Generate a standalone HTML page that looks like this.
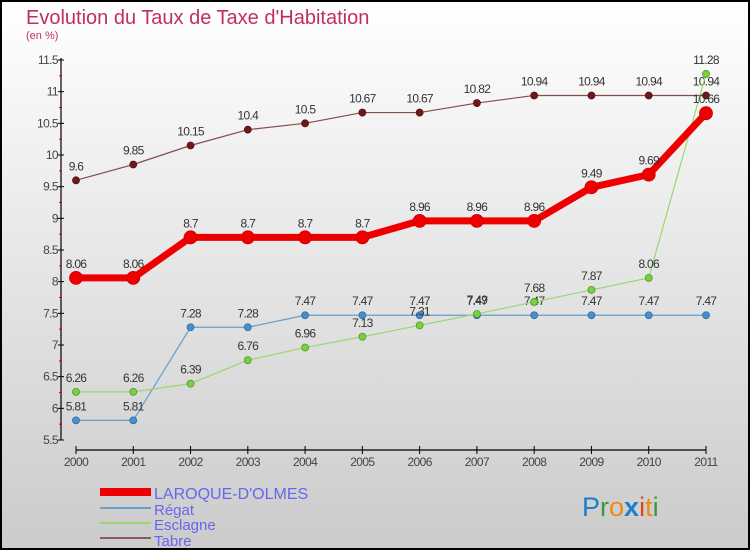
<!DOCTYPE html>
<html><head><meta charset="utf-8"><style>
body{margin:0}
svg text{font-family:"Liberation Sans",sans-serif}
</style></head><body>
<svg width="750" height="550" viewBox="0 0 750 550" xmlns="http://www.w3.org/2000/svg">
<defs><linearGradient id="bg" x1="0" y1="0" x2="0" y2="1"><stop offset="0" stop-color="#ffffff"/><stop offset="1" stop-color="#cbcbcb"/></linearGradient></defs>
<rect x="1" y="1" width="748" height="548" fill="url(#bg)" stroke="#000" stroke-width="2"/>
<text x="26" y="24" font-size="20" fill="#c0305e">Evolution du Taux de Taxe d'Habitation</text>
<text x="26" y="39" font-size="11" fill="#c0305e">(en %)</text>
<g id="axes"></g>
<g id="series"></g>
<g>
<rect x="100" y="488" width="51" height="8" fill="#e00"/>
<text x="154" y="499" font-size="16" fill="#6666ee">LAROQUE-D'OLMES</text>
<rect x="100" y="507" width="51" height="2" fill="#6a9ec8"/>
<text x="154" y="515" font-size="15" fill="#6666ee">Régat</text>
<rect x="100" y="522" width="51" height="2" fill="#9cd670"/>
<text x="154" y="530" font-size="15" fill="#6666ee">Esclagne</text>
<rect x="100" y="537" width="51" height="2" fill="#8b5a5a"/>
<text x="154" y="546" font-size="15" fill="#6666ee">Tabre</text>
</g>
<g font-size="27">
<text x="582" y="516"><tspan fill="#1a7fd0">P</tspan><tspan fill="#3a9a3a">r</tspan><tspan fill="#f08a10">o</tspan><tspan fill="#1a7fd0" font-weight="bold">x</tspan><tspan fill="#e04a10">i</tspan><tspan fill="#f08a10">t</tspan><tspan fill="#3a9a3a">i</tspan></text>
</g>
</svg>
<script>
const years=[2000,2001,2002,2003,2004,2005,2006,2007,2008,2009,2010,2011];
const yTicks=[5.5,6,6.5,7,7.5,8,8.5,9,9.5,10,10.5,11,11.5];
const yTickLabels=["5.5","6","6.5","7","7.5","8","8.5","9","9.5","10","10.5","11","11.5"];
const laroque=[8.06,8.06,8.7,8.7,8.7,8.7,8.96,8.96,8.96,9.49,9.69,10.66];
const regat=[5.81,5.81,7.28,7.28,7.47,7.47,7.47,7.47,7.47,7.47,7.47,7.47];
const esclagne=[6.26,6.26,6.39,6.76,6.96,7.13,7.31,7.49,7.68,7.87,8.06,11.28];
const tabre=[9.6,9.85,10.15,10.4,10.5,10.67,10.67,10.82,10.94,10.94,10.94,10.94];
const NS="http://www.w3.org/2000/svg";
const xs=i=>76+i*(630/11);
const ys=v=>440-(v-5.5)*(380/6);
function mk(tag,attrs,parent){const e=document.createElementNS(NS,tag);for(const k in attrs)e.setAttribute(k,attrs[k]);parent.appendChild(e);return e;}
const ax=document.getElementById('axes');
let yl=mk('line',{x1:61,y1:58,x2:61,y2:440,stroke:'#000','stroke-width':1.2},ax);


yTicks.forEach((t,i)=>{
  mk('line',{x1:58,y1:ys(t),x2:64,y2:ys(t),stroke:'#000'},ax);
  if(i<yTicks.length-1)mk('line',{x1:59,y1:ys(t+0.25),x2:62,y2:ys(t+0.25),stroke:'#d00'},ax);
  const tx=mk('text',{x:58,y:ys(t)+4,'text-anchor':'end','font-size':12,fill:'#444','letter-spacing':'-0.6'},ax);
  tx.textContent=yTickLabels[i];
  
  
});
let xl=mk('line',{x1:76,y1:450,x2:706,y2:450,stroke:'#000','stroke-width':1.2},ax);


years.forEach((y,i)=>{
  mk('line',{x1:xs(i),y1:446,x2:xs(i),y2:454,stroke:'#000'},ax);
  const tx=mk('text',{x:xs(i),y:466,'text-anchor':'middle','font-size':12,fill:'#444','letter-spacing':'-0.6'},ax);
  tx.textContent=y;
  
  
});
const sg=document.getElementById('series');
function series(vals,name,color,w,r,dot,labelCol){
  const g=mk('g',{},sg);
  
  
  const p=mk('polyline',{points:vals.map((v,i)=>xs(i)+','+ys(v)).join(' '),fill:'none',stroke:color,'stroke-width':w,'stroke-linejoin':'round'},g);
  
  
  vals.forEach((v,i)=>{
    const c=mk('circle',{cx:xs(i),cy:ys(v),r:r,fill:dot,stroke:labelCol,'stroke-width':0.8},g);
    
    
    const t=mk('text',{x:xs(i),y:ys(v)-10,'text-anchor':'middle','font-size':12,fill:'#333','letter-spacing':'-0.7'},g);
    t.textContent=String(v);
    
    
  });
}
series(tabre,'tabre','#8b4a4a',1.2,3.5,'#6a1a1a','#5a1010');
series(regat,'regat','#6a9ec8',1.2,3.5,'#4a8ed0','#2a6ea0');
series(esclagne,'esclagne','#9cd670',1.2,3.5,'#7ad040','#4a9a20');
series(laroque,'laroque','#ee0000',7,6.5,'#ee0000','#cc0000');
</script>
</body></html>
